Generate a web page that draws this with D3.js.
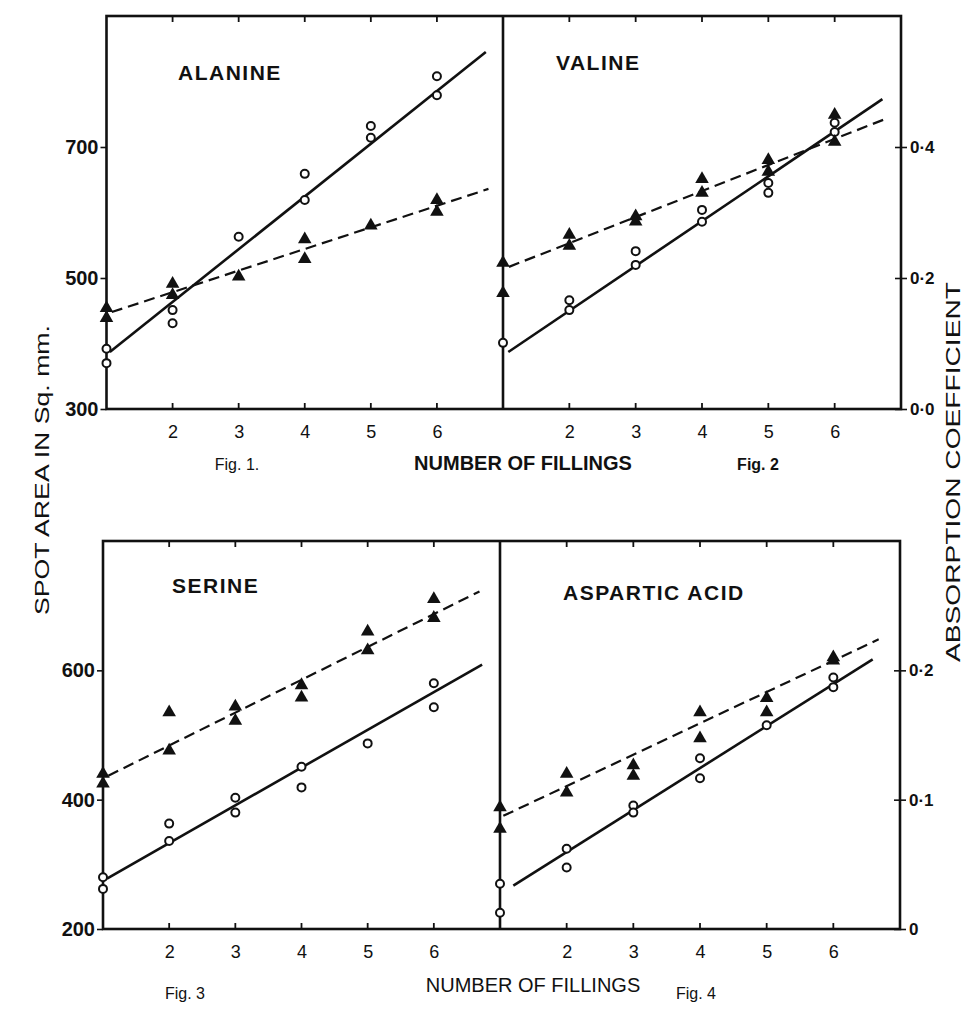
<!DOCTYPE html>
<html><head><meta charset="utf-8">
<script src="https://cdn.jsdelivr.net/npm/d3@7"></script>
<style>
body{margin:0;background:#fff;}
text{font-family:"Liberation Sans",Arial,sans-serif;fill:#111;}
</style></head>
<body>
<svg id="c" width="973" height="1011"></svg>
<script>
// ---- data (spot-area units; right axis is a linked absorption scale) ----
const xTicks = [2, 3, 4, 5, 6];
const topLeftTicks = [300, 500, 700];
const topRightTicks = [0.0, 0.2, 0.4];
const topRightTickLabels = ["0·0", "0·2", "0·4"];
const botLeftTicks = [200, 400, 600];
const botRightTicks = [0, 0.1, 0.2];
const botRightTickLabels = ["0", "0·1", "0·2"];

const alanineCircles = [[1,392],[1,370],[2,451],[2,431],[3,563],[4,659],[4,619],[5,732],[5,714],[6,808],[6,779]];
const alanineTriangles = [[1,454],[1,439],[2,491],[2,474],[3,502],[4,559],[4,529],[5,580],[6,619],[6,601]];
const alanineSolid = [[1.05,387],[6.74,845]];
const alanineDashed = [[1.08,448],[6.78,636]];

const valineCircles = [[1,401],[2,466],[2,451],[3,541],[3,520],[4,604],[4,586],[5,645],[5,630],[6,737],[6,723]];
const valineTriangles = [[1,523],[1,477],[2,566],[2,549],[3,594],[3,586],[4,651],[4,630],[5,680],[5,662],[6,749],[6,708]];
const valineSolid = [[1.08,387],[6.72,773]];
const valineDashed = [[1.09,517],[6.77,743]];

const serineCircles = [[1,280],[1,262],[2,363],[2,336],[3,403],[3,380],[4,451],[4,419],[5,487],[6,580],[6,543]];
const serineTriangles = [[1,440],[1,425],[2,535],[2,476],[3,544],[3,522],[4,577],[4,558],[5,660],[5,631],[6,710],[6,681]];
const serineSolid = [[1.06,278],[6.73,609]];
const serineDashed = [[1.08,437],[6.69,722]];

const asparticCircles = [[1,270],[1,225],[2,324],[2,295],[3,391],[3,380],[4,464],[4,433],[5,515],[6,589],[6,574]];
const asparticTriangles = [[1,388],[1,355],[2,440],[2,411],[3,453],[3,437],[4,535],[4,495],[5,557],[5,535],[6,620],[6,615]];
const asparticSolid = [[1.2,267],[6.59,617]];
const asparticDashed = [[1.05,375],[6.68,648]];

const panelTitles = ["ALANINE", "VALINE", "SERINE", "ASPARTIC ACID"];
const figLabels = ["Fig. 1.", "Fig. 2", "Fig. 3", "Fig. 4"];
const xTitle = "NUMBER OF FILLINGS";
const yLeftTitle = "SPOT AREA IN Sq. mm.";
const yRightTitle = "ABSORPTION COEFFICIENT";

// ---- layout ----
const svg = d3.select("#c");
const rows = [
  {top:16, bottom:409, x0:106.5, xm:503, x1:901, dom:[300,900], absMap:v=>300+v*1000,
   lt:topLeftTicks, rt:topRightTicks, rtl:topRightTickLabels, figY:470, titleY:470, titleX:523, titleW:"bold", titleS:20},
  {top:541, bottom:929, x0:103, xm:500, x1:900, dom:[200,800], absMap:v=>200+v*2000,
   lt:botLeftTicks, rt:botRightTicks, rtl:botRightTickLabels, figY:999, titleY:992, titleX:533, titleW:"normal", titleS:20}
];
const panels = [
  {row:0, side:0, circles:alanineCircles, tris:alanineTriangles, solid:alanineSolid, dashed:alanineDashed, title:panelTitles[0], tx:178, ty:80},
  {row:0, side:1, circles:valineCircles, tris:valineTriangles, solid:valineSolid, dashed:valineDashed, title:panelTitles[1], tx:556, ty:70},
  {row:1, side:0, circles:serineCircles, tris:serineTriangles, solid:serineSolid, dashed:serineDashed, title:panelTitles[2], tx:172, ty:593},
  {row:1, side:1, circles:asparticCircles, tris:asparticTriangles, solid:asparticSolid, dashed:asparticDashed, title:panelTitles[3], tx:563, ty:600}
];
const figPos = [[237,0],[758,0],[185,1],[696,1]];

rows.forEach((r, ri) => {
  const y = d3.scaleLinear().domain(r.dom).range([r.bottom, r.top]);
  r.y = y;
  svg.append("rect").attr("x", r.x0).attr("y", r.top).attr("width", r.x1 - r.x0).attr("height", r.bottom - r.top)
    .attr("fill", "none").attr("stroke", "#111").attr("stroke-width", 2.6);
  svg.append("line").attr("x1", r.xm).attr("x2", r.xm).attr("y1", r.top).attr("y2", r.bottom)
    .attr("stroke", "#111").attr("stroke-width", 2.6);
  const la = svg.append("g").attr("transform", `translate(${r.x0},0)`)
    .call(d3.axisLeft(y).tickValues(r.lt).tickSize(6).tickPadding(2).tickFormat(d3.format("d")));
  la.select(".domain").remove();
  la.selectAll("line").attr("stroke", "#111").attr("stroke-width", 1.6);
  la.selectAll("text").style("font-size", "20px").style("font-weight", "bold").attr("fill", "#111");
  const ry = d3.scaleLinear()
    .domain([(r.dom[0]-r.absMap(0))/(r.absMap(1)-r.absMap(0)), (r.dom[1]-r.absMap(0))/(r.absMap(1)-r.absMap(0))])
    .range([r.bottom, r.top]);
  const rAxis = svg.append("g").attr("transform", `translate(${r.x1},0)`)
    .call(d3.axisRight(ry).tickValues(r.rt).tickSize(6).tickPadding(3).tickFormat((d,i)=>r.rtl[i]));
  rAxis.select(".domain").remove();
  rAxis.selectAll("line").attr("x1", -6).attr("stroke", "#111").attr("stroke-width", 1.6);
  rAxis.selectAll("text").style("font-size", "17px").style("font-weight", "bold").attr("fill", "#111");
  svg.append("text").attr("x", r.titleX).attr("y", r.titleY).attr("text-anchor", "middle")
    .style("font-size", r.titleS + "px").style("font-weight", r.titleW).text(xTitle);
});

figPos.forEach((f, i) => {
  svg.append("text").attr("x", f[0]).attr("y", rows[f[1]].figY).attr("text-anchor", "middle")
    .style("font-size", "16px").style("font-weight", i === 1 ? "bold" : "normal").text(figLabels[i]);
});

panels.forEach(p => {
  const r = rows[p.row];
  const x = d3.scaleLinear().domain([1, 7]).range(p.side === 0 ? [r.x0, r.xm] : [r.xm, r.x1]);
  const y = r.y;
  const g = svg.append("g");
  const xb = g.append("g").attr("transform", `translate(0,${r.bottom})`)
    .call(d3.axisBottom(x).tickValues(xTicks).tickSize(0).tickPadding(16).tickFormat(d3.format("d")));
  xb.select(".domain").remove();
  xb.selectAll("text").style("font-size", "18px").attr("fill", "#111");
  g.selectAll(".tb").data(xTicks).join("line").attr("x1", d => x(d)).attr("x2", d => x(d))
    .attr("y1", r.bottom).attr("y2", r.bottom - 6).attr("stroke", "#111").attr("stroke-width", 1.8);
  g.selectAll(".tt").data(xTicks).join("line").attr("x1", d => x(d)).attr("x2", d => x(d))
    .attr("y1", r.top).attr("y2", r.top + 6).attr("stroke", "#111").attr("stroke-width", 1.8);
  const line = d3.line().x(d => x(d[0])).y(d => y(d[1]));
  g.append("path").attr("d", line(p.solid)).attr("fill", "none").attr("stroke", "#111").attr("stroke-width", 2.6);
  g.append("path").attr("d", line(p.dashed)).attr("fill", "none").attr("stroke", "#111").attr("stroke-width", 2.2)
    .attr("stroke-dasharray", "11,6");
  g.selectAll(".c").data(p.circles).join("circle").attr("cx", d => x(d[0])).attr("cy", d => y(d[1]))
    .attr("r", 4).attr("fill", "#fff").attr("stroke", "#111").attr("stroke-width", 2);
  const tri = d3.symbol().type(d3.symbolTriangle).size(80);
  g.selectAll(".t").data(p.tris).join("path").attr("d", tri)
    .attr("transform", d => `translate(${x(d[0])},${y(d[1])})`).attr("fill", "#111");
  g.append("text").attr("x", p.tx).attr("y", p.ty).style("font-size", "21px").style("font-weight", "bold")
    .style("letter-spacing", "1.5px").text(p.title);
});

svg.append("text").attr("transform", "translate(49,470) rotate(-90)").attr("text-anchor", "middle")
  .attr("textLength", 290).attr("lengthAdjust", "spacingAndGlyphs")
  .style("font-size", "21px").text(yLeftTitle);
svg.append("text").attr("transform", "translate(960,472) rotate(-90)").attr("text-anchor", "middle")
  .attr("textLength", 380).attr("lengthAdjust", "spacingAndGlyphs")
  .style("font-size", "20px").text(yRightTitle);
</script>
</body></html>
